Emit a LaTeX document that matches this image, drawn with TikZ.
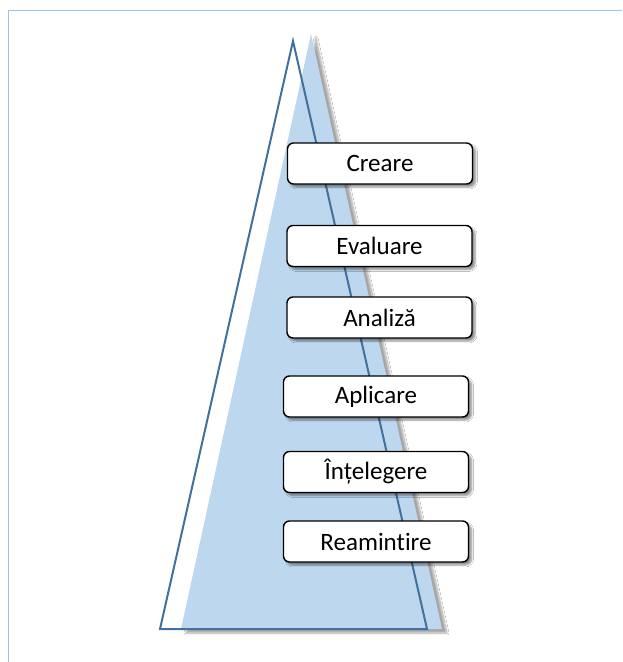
\documentclass[tikz,border=0pt]{standalone}
\usepackage{fontspec}
\setmainfont{Carlito}[Ligatures={NoCommon}]
\usetikzlibrary{shadows.blur}
\definecolor{frameblue}{HTML}{9DC3E6}
\definecolor{trifill}{HTML}{BDD7EE}
\definecolor{triline}{HTML}{41719C}
\tikzset{
  levelbox/.style={draw=black, line width=1.4pt, fill=white, rounded corners=6pt,
    minimum width=185pt, minimum height=41pt, inner sep=0pt,
    font=\fontsize{25}{30}\selectfont,
    blur shadow={shadow xshift=3pt, shadow yshift=-3pt, shadow blur steps=6, shadow opacity=45}},
  trishadow/.style={blur shadow={shadow xshift=5pt, shadow yshift=-4pt, shadow blur steps=8, shadow opacity=35}}
}
\begin{document}
\begin{tikzpicture}[x=1pt,y=-1pt]
\useasboundingbox (0,0) rectangle (622,662);
\fill[white] (0,0) rectangle (622,662);
% frame lines
\draw[frameblue, line width=1pt] (8,662) -- (8,10) -- (622,10);
% filled triangle
\fill[trifill, trishadow] (311,34) -- (442,629) -- (181,629) -- cycle;
% outline triangle
\draw[triline, line width=2pt, line join=miter] (293,41) -- (427,629) -- (160,629) -- cycle;
% boxes
\node[levelbox] (creare) at (380,163.5) {Creare};
\node[levelbox] (evaluare) at (379.5,246) {Evaluare};
\node[levelbox] (analiza) at (379.5,317.5) {Analiză};
\node[levelbox] (aplicare) at (376,396.5) {Aplicare};
\node[levelbox] (intelegere) at (376,472) {Înțelegere};
\node[levelbox] (reamintire) at (376,541.5) {Reamintire};
\end{tikzpicture}
\end{document}
